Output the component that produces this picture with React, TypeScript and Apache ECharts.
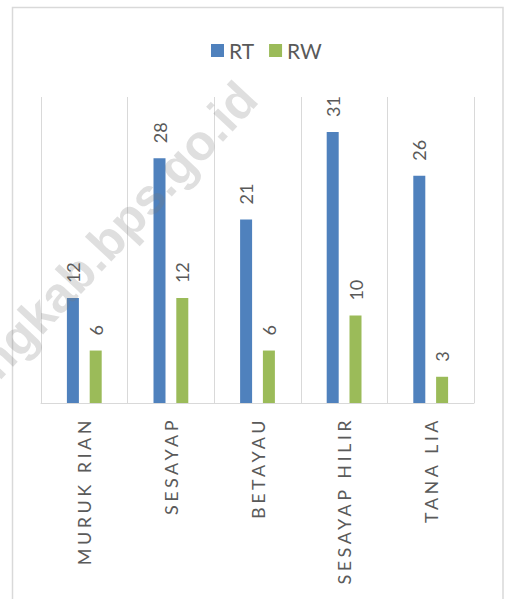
import React, { useEffect, useRef } from "react";
import * as echarts from "echarts";

const categories = ["MURUK RIAN", "SESAYAP", "BETAYAU", "SESAYAP HILIR", "TANA LIA"];
const rtValues = [12, 28, 21, 31, 26];
const rwValues = [6, 12, 6, 10, 3];
const seriesNames = ["RT", "RW"];
const watermarkText = "tanatidungkab.bps.go.id";

export default function App() {
  const ref = useRef<HTMLDivElement>(null);
  useEffect(() => {
    if (!ref.current) return;
    const chart = echarts.init(ref.current, null, { renderer: "svg" });
    const labelCommon = {
      show: true,
      position: "top",
      rotate: 90,
      align: "left",
      verticalAlign: "middle",
      distance: 15,
      color: "#595959",
      fontSize: 18,
      fontFamily: "Lato",
    };
    chart.setOption({
      animation: false,
      backgroundColor: "#ffffff",
      legend: {
        data: seriesNames,
        left: 206,
        top: 35,
        itemWidth: 13,
        itemHeight: 13,
        itemGap: 15,
        icon: "rect",
        textStyle: { color: "#595959", fontSize: 21, fontFamily: "Lato" },
      },
      grid: { left: 41, right: 31, top: 97, bottom: 196 },
      xAxis: {
        type: "category",
        data: categories,
        axisLine: { lineStyle: { color: "#d9d9d9", width: 1 } },
        axisTick: { show: false },
        splitLine: { show: true, lineStyle: { color: "#d9d9d9", width: 1 } },
        axisLabel: {
          rotate: 90,
          interval: 0,
          margin: 14,
          color: "#5a5a5a",
          fontSize: 18,
          fontFamily: "Lato",
        },
      },
      yAxis: {
        type: "value",
        min: 0,
        max: 35,
        show: false,
        splitLine: { show: false },
      },
      series: [
        {
          name: seriesNames[0],
          type: "bar",
          data: rtValues,
          barWidth: 12,
          barGap: "90%",
          itemStyle: { color: "#4f81bd" },
          label: labelCommon,
        },
        {
          name: seriesNames[1],
          type: "bar",
          data: rwValues,
          barWidth: 12,
          barGap: "90%",
          itemStyle: { color: "#9bbb59" },
          label: labelCommon,
        },
      ],
      graphic: [
        {
          type: "rect",
          shape: { x: 12.5, y: 7.5, width: 490.5, height: 620 },
          style: { fill: "none", stroke: "#d9d9d9", lineWidth: 1.5 },
          z: 0,
          silent: true,
        },
        {
          type: "text",
          x: 248,
          y: 90,
          rotation: (47 * Math.PI) / 180,
          z: 100,
          silent: true,
          style: {
            text: watermarkText,
            font: "bold 50px 'Liberation Sans'",
            fill: "rgba(120,120,120,0.24)",
            align: "right",
            verticalAlign: "middle",
          },
        },
      ],
    });
    return () => chart.dispose();
  }, []);
  return (
    <>
      <style>{`.chartbox text[fill="#5a5a5a"] { letter-spacing: 3.5px; }`}</style>
      <div
        ref={ref}
        className="chartbox"
        style={{ position: "absolute", left: 0, top: 0, width: 505, height: 599 }}
      />
    </>
  );
}
